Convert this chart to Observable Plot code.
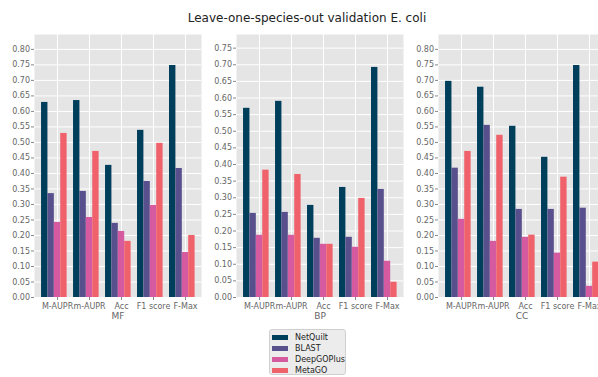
<!DOCTYPE html>
<html>
<head>
<meta charset="utf-8">
<script src="https://cdn.jsdelivr.net/npm/d3@7"></script>
<script src="https://cdn.jsdelivr.net/npm/@observablehq/plot@0.6"></script>
<style>
  html, body { margin: 0; padding: 0; background: #fff; overflow: hidden; }
  #wrap { position: relative; width: 598px; height: 377px; overflow: hidden; font-family: "DejaVu Sans", sans-serif; }
  #title { position: absolute; left: 0; width: 614px; top: 11px; text-align: center; font-size: 12px; color: #222; }
  .panel { position: absolute; top: 0; width: 206px; height: 330px; }
  .panel svg { background: transparent !important; overflow: visible; max-width: none !important; width: 206px; height: 330px; }
  #legend { position: absolute; left: 269px; top: 329px; width: 77px; height: 46px; border: 1px solid #cfcfcf; border-radius: 3px; background: #ececec; box-sizing: border-box; }
  .item { position: absolute; left: 2px; height: 11px; font-size: 8px; color: #222; line-height: 11px; white-space: nowrap; }
  .sw { position: absolute; left: 0; top: 3px; width: 16px; height: 5px; }
  .lab { position: absolute; left: 23px; top: 0; }
</style>
</head>
<body>
<div id="wrap">
  <div id="title">Leave-one-species-out validation E. coli</div>
  <div id="legend"></div>
</div>
<script>
const metrics = ["M-AUPR", "m-AUPR", "Acc", "F1 score", "F-Max"];
const methods = ["NetQuilt", "BLAST", "DeepGOPlus", "MetaGO"];
const colors = ["#003f5c", "#58508d", "#d65aa0", "#f0626b"];
const panelNames = ["MF", "BP", "CC"];

// MF
const mfNetQuilt   = [0.629, 0.635, 0.426, 0.539, 0.748];
const mfBLAST      = [0.335, 0.342, 0.239, 0.374, 0.416];
const mfDeepGOPlus = [0.242, 0.258, 0.213, 0.297, 0.145];
const mfMetaGO     = [0.529, 0.471, 0.181, 0.497, 0.200];
// BP
const bpNetQuilt   = [0.569, 0.590, 0.277, 0.331, 0.692];
const bpBLAST      = [0.253, 0.256, 0.178, 0.181, 0.325];
const bpDeepGOPlus = [0.187, 0.187, 0.160, 0.151, 0.109];
const bpMetaGO     = [0.383, 0.370, 0.160, 0.298, 0.046];
// CC
const ccNetQuilt   = [0.697, 0.678, 0.552, 0.452, 0.748];
const ccBLAST      = [0.417, 0.555, 0.284, 0.284, 0.288];
const ccDeepGOPlus = [0.252, 0.181, 0.194, 0.143, 0.036];
const ccMetaGO     = [0.471, 0.523, 0.201, 0.388, 0.114];

const yTicksMF = [0,0.05,0.10,0.15,0.20,0.25,0.30,0.35,0.40,0.45,0.50,0.55,0.60,0.65,0.70,0.75,0.80];
const yTicksBP = [0,0.05,0.10,0.15,0.20,0.25,0.30,0.35,0.40,0.45,0.50,0.55,0.60,0.65,0.70,0.75];
const yTicksCC = yTicksMF;

const panelSeries = [
  [mfNetQuilt, mfBLAST, mfDeepGOPlus, mfMetaGO],
  [bpNetQuilt, bpBLAST, bpDeepGOPlus, bpMetaGO],
  [ccNetQuilt, ccBLAST, ccDeepGOPlus, ccMetaGO]
];
const panelTicks = [yTicksMF, yTicksBP, yTicksCC];
const panelYMax = [0.848, 0.791, 0.848];
const panelLeft = [0, 202, 404];

const barW = 0.2;
const wrap = document.getElementById("wrap");

panelNames.forEach((name, p) => {
  const rows = [];
  panelSeries[p].forEach((vals, k) => {
    vals.forEach((v, i) => {
      rows.push({ i, method: methods[k], value: v, x1: i + (k - 2.5) * barW, x2: i + (k - 1.5) * barW });
    });
  });
  const chart = Plot.plot({
    width: 206,
    height: 330,
    marginLeft: 34,
    marginRight: 5,
    marginTop: 34,
    marginBottom: 33,
    style: { fontFamily: "DejaVu Sans, sans-serif", fontSize: "8px", color: "#666", background: "transparent" },
    x: { type: "linear", domain: [-0.72, 4.5], axis: null },
    y: { domain: [0, panelYMax[p]], axis: null },
    color: { domain: methods, range: colors },
    marks: [
      Plot.frame({ fill: "#e5e5e5", stroke: "none" }),
      Plot.gridY(panelTicks[p], { stroke: "#fff", strokeOpacity: 1, strokeWidth: 1 }),
      Plot.gridX([0, 1, 2, 3, 4], { stroke: "#fff", strokeOpacity: 1, strokeWidth: 1 }),
      Plot.rectY(rows, { x1: "x1", x2: "x2", y: "value", fill: "method" }),
      Plot.axisY({ ticks: panelTicks[p], tickFormat: d => d.toFixed(2), tickSize: 3, tickPadding: 1.5, label: null, stroke: "#888" }),
      Plot.axisX({ ticks: [0, 1, 2, 3, 4], tickFormat: i => metrics[i], tickSize: 3, tickPadding: 2.5, label: null, stroke: "#888" }),
      Plot.text([name], { text: d => d, frameAnchor: "bottom", dy: 21, fontSize: 9, fill: "#666" })
    ]
  });
  const holder = document.createElement("div");
  holder.className = "panel";
  holder.style.left = panelLeft[p] + "px";
  holder.appendChild(chart);
  wrap.appendChild(holder);
});

const legend = document.getElementById("legend");
methods.forEach((m, k) => {
  const item = document.createElement("div");
  item.className = "item";
  item.style.top = (2 + k * 11) + "px";
  const sw = document.createElement("div");
  sw.className = "sw";
  sw.style.background = colors[k];
  const lab = document.createElement("div");
  lab.className = "lab";
  lab.textContent = m;
  item.appendChild(sw);
  item.appendChild(lab);
  legend.appendChild(item);
});
</script>
</body>
</html>
